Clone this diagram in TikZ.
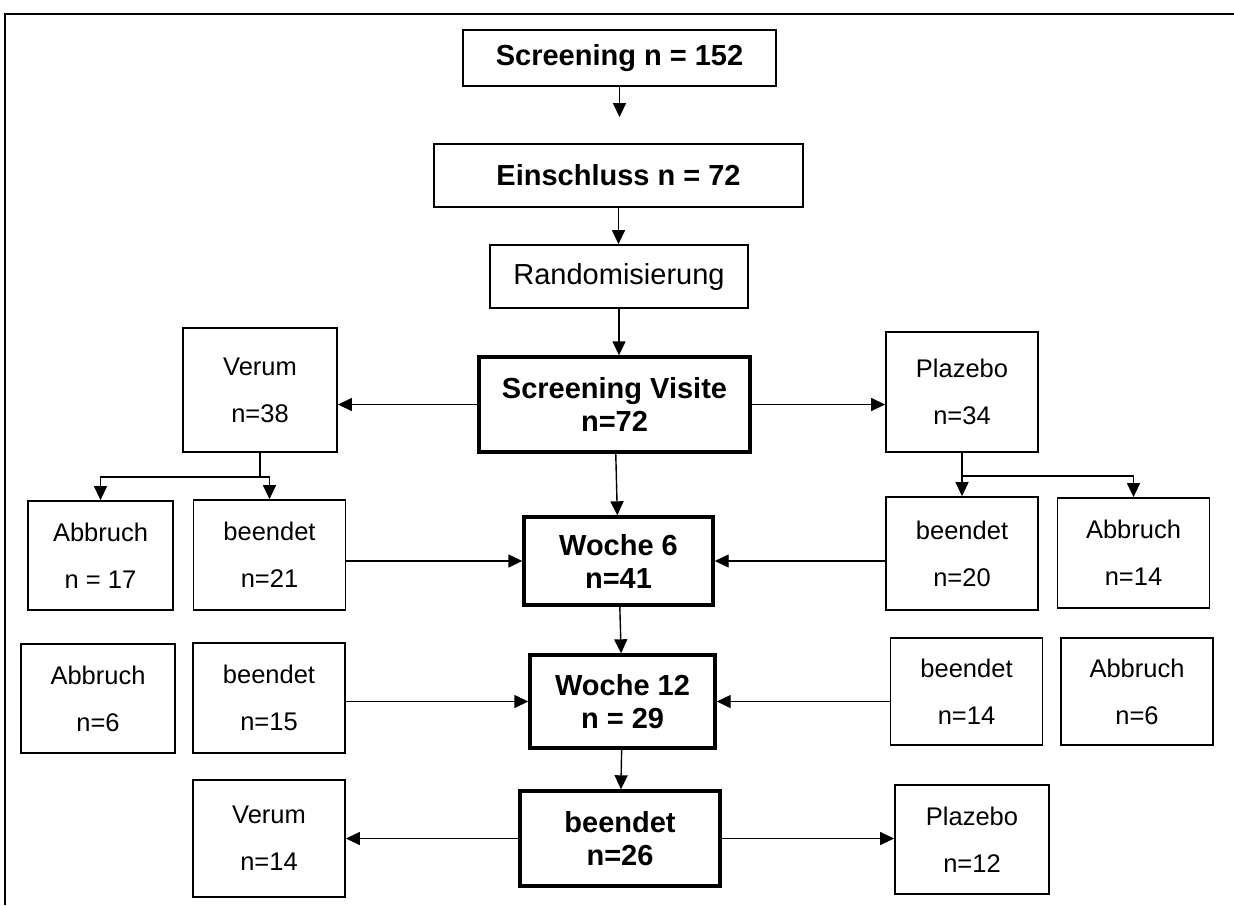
\documentclass[tikz,border=0pt]{standalone}
\usepackage{fontspec}
\setmainfont{Liberation Sans}
\usetikzlibrary{arrows.meta, positioning}

\begin{document}
\begin{tikzpicture}[
  x=0.5pt, y=-0.5pt,
  every node/.style={align=center, inner sep=0pt},
  box/.style={draw, line width=0.9pt, minimum width=76pt, minimum height=55pt,
              font=\fontsize{12.75}{23.5}\selectfont},
  mainbox/.style={draw, line width=0.9pt, font=\fontsize{14.5}{16.5}\selectfont\bfseries},
  visit/.style={draw, line width=1.7pt, font=\fontsize{14.5}{16.5}\selectfont\bfseries},
  arr/.style={-{Triangle[length=7pt, width=6.5pt]}, line width=0.7pt},
]
  \useasboundingbox (0,0) rectangle (1234,905);
  \draw[line width=1pt] (5,905) -- (5,14) -- (1234,14);

  % Top - Screening / Einschluss / Randomisierung
  \node[mainbox, minimum width=156.5pt, minimum height=28pt] (scr) at (619.5,58) {Screening n = 152};
  \node[mainbox, minimum width=184.5pt, minimum height=31.5pt] (ein) at (618.5,175.5) {Einschluss n = 72};
  \node[mainbox, minimum width=129pt, minimum height=31.5pt, font=\fontsize{14.5}{16.5}\selectfont] (rand) at (619,276.5) {Randomisierung};

  % Row 1 - Visite
  \node[box, minimum width=77pt, minimum height=62pt] (verA) at (260,390) {Verum\\n=38};
  \node[visit, minimum width=135.5pt, minimum height=47.5pt] (sv) at (614.5,404.5) {Screening Visite\\n=72};
  \node[box, minimum height=60pt] (plaA) at (962,392) {Plazebo\\n=34};

  % Row 2 - Woche 6
  \node[box, minimum width=72.5pt, minimum height=54.5pt] (abbA) at (100.5,555.5) {Abbruch\\n = 17};
  \node[box] (bedA) at (269.5,555) {beendet\\n=21};
  \node[visit, minimum width=94.5pt, minimum height=44pt] (w6) at (618.5,561) {Woche 6\\n=41};
  \node[box, minimum height=56.5pt] (bedB) at (962,553.5) {beendet\\n=20};
  \node[box] (abbB) at (1133.5,553) {Abbruch\\n=14};

  % Row 3 - Woche 12
  \node[box, minimum width=77pt, minimum height=54.5pt] (abbC) at (98,698.5) {Abbruch\\n=6};
  \node[box] (bedC) at (269,698) {beendet\\n=15};
  \node[visit, minimum width=92.5pt, minimum height=46.5pt] (w12) at (622.5,701.5) {Woche 12\\n = 29};
  \node[box, minimum height=53.5pt] (bedD) at (966.5,691.5) {beendet\\n=14};
  \node[box, minimum height=53.5pt] (abbD) at (1137,691.5) {Abbruch\\n=6};

  % Row 4 - Ende
  \node[box, minimum height=58.5pt] (verB) at (269,838.5) {Verum\\n=14};
  \node[visit, minimum width=100pt, minimum height=47.5pt] (end) at (620,838.5) {beendet\\n=26};
  \node[box, minimum width=77pt, minimum height=54.5pt] (plaB) at (972,839.5) {Plazebo\\n=12};

  \coordinate (vsplit) at (verA.south |- 0,477);
  \coordinate (psplit) at (plaA.south |- 0,476);

  % Arrows
  \draw[arr, shorten >=13pt] (scr) -- (scr |- ein.north);
  \draw[arr] (ein) -- (ein |- rand.north);
  \draw[arr] (rand) -- (rand |- sv.north);
  \draw[arr] (sv.west) -- (sv.west -| verA.east);
  \draw[arr] (sv.east) -- (sv.east -| plaA.west);
  \draw[line width=0.7pt] (verA.south) -- (vsplit);
  \draw[arr] (vsplit) -| (abbA.north);
  \draw[arr] (vsplit) -| (bedA.north);
  \draw[line width=0.7pt] (plaA.south) -- (psplit);
  \draw[arr] (psplit) -| (bedB.north);
  \draw[arr] (psplit) -| (abbB.north);
  \draw[arr] (sv) -- (w6);
  \draw[arr] (w6.west -| bedA.east) -- (w6.west);
  \draw[arr] (w6.east -| bedB.west) -- (w6.east);
  \draw[arr] (w6) -- (w12);
  \draw[arr] (w12.west -| bedC.east) -- (w12.west);
  \draw[arr] (w12.east -| bedD.west) -- (w12.east);
  \draw[arr] (w12) -- (end);
  \draw[arr] (end.west) -- (end.west -| verB.east);
  \draw[arr] (end.east) -- (end.east -| plaB.west);
\end{tikzpicture}
\end{document}
